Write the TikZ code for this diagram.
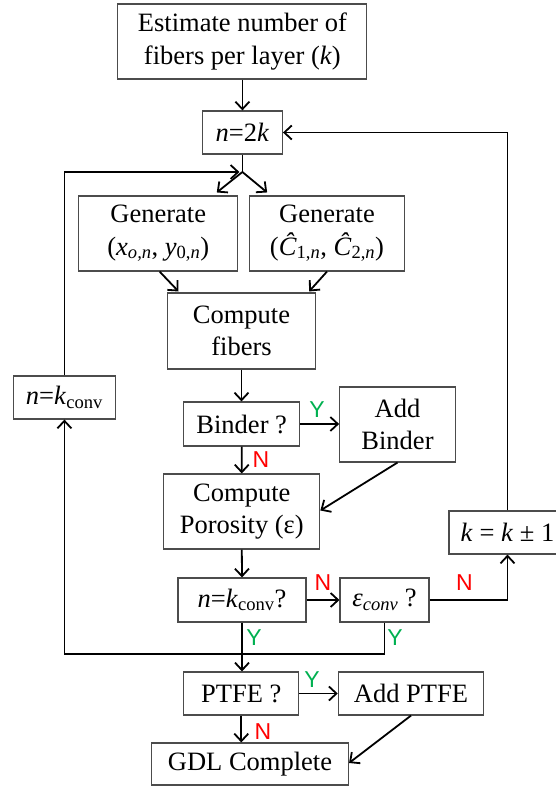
\documentclass[tikz,border=0pt]{standalone}
\usepackage{fontspec}
\setmainfont{Liberation Serif}
\newfontfamily\lsans{Liberation Sans}
\usetikzlibrary{arrows.meta,calc}
\definecolor{ygreen}{RGB}{0,176,80}
\definecolor{nred}{RGB}{255,0,0}
\begin{document}
\begin{tikzpicture}[x=1pt,y=-1pt,
  box/.style={draw=black!70,line width=1.1pt,inner sep=0pt,align=center,font=\fontsize{26.5}{32.5}\selectfont},
  conn/.style={line width=1.8pt,-{Straight Barb[length=7.5pt,width=14pt]}},
  plain/.style={line width=1.8pt},
  ylab/.style={text=ygreen,font=\lsans\fontsize{23}{23}\selectfont,inner sep=0pt},
  nlab/.style={text=nred,font=\lsans\fontsize{23}{23}\selectfont,inner sep=0pt}]
\useasboundingbox (0,0) rectangle (556,786);
% nodes
\node[box,minimum width=249pt,minimum height=75pt] (est) at (242.4,41.5) {Estimate number of\\fibers per layer (\textit{k})};
\node[box,minimum width=80pt,minimum height=43pt] (n2k) at (242.4,132.5) {\textit{n}=2\textit{k}};
\node[box,minimum width=159pt,minimum height=75pt] (gen1) at (158.3,233.5) {Generate\\(\textit{x}\textsubscript{\textit{o,n}}, \textit{y}\textsubscript{0,\textit{n}})};
\node[box,minimum width=155pt,minimum height=75pt] (gen2) at (327,233.5) {Generate\\(\textit{Ĉ}\textsubscript{1,\textit{n}}, \textit{Ĉ}\textsubscript{2,\textit{n}})};
\node[box,minimum width=147.5pt,minimum height=76pt] (cf) at (241.5,331) {Compute\\fibers};
\node[box,minimum width=116pt,minimum height=44pt] (binder) at (241.7,424) {Binder ?};
\node[box,minimum width=115.6pt,minimum height=75pt] (addb) at (397.5,424.5) {Add\\Binder};
\node[box,minimum width=156pt,minimum height=75pt] (cp) at (241.8,511.5) {Compute\\Porosity (ε)};
\node[box,minimum width=102.5pt,minimum height=43pt] (nkl) at (64.4,397.5) {\textit{n}=\textit{k}\textsubscript{conv}};
\node[box,minimum width=117pt,minimum height=43pt] (kk) at (507.5,532.5) {\textit{k} = \textit{k} ± 1};
\node[box,minimum width=128pt,minimum height=44pt] (nkq) at (242,600) {\textit{n}=\textit{k}\textsubscript{conv}?};
\node[box,minimum width=89pt,minimum height=44pt] (econv) at (384.5,600) {\textit{ε}\textsubscript{\textit{conv}} ?};
\node[box,minimum width=115pt,minimum height=43pt] (ptfe) at (241.3,693.5) {PTFE ?};
\node[box,minimum width=145.4pt,minimum height=43pt] (addp) at (411,693.5) {Add PTFE};
\node[box,minimum width=197pt,minimum height=42pt] (gdl) at (250,764) {GDL Complete};
% helper coordinates
\coordinate (J) at (242.4,172);
\coordinate (B) at (64.4,654);
% connectors
\draw[conn] (est.south) -- (n2k.north);
\draw[plain] (n2k.south) -- (J);
\draw[conn,shorten >=3pt] (nkl.north) |- (J);
\draw[conn] (J) -- ($(gen1.north east)+(-21.6,-3)$);
\draw[conn] (J) -- ($(gen2.north west)+(18.2,-3)$);
\draw[conn] ($(gen1.south)+(1.3,0)$) -- ($(cf.north west)+(11.3,-1)$);
\draw[conn] (gen2.south) -- ($(cf.north east)+(-6.7,-1)$);
\draw[conn] (cf.south) -- (cf.south |- binder.north);
\draw[conn] (binder.east) -- (binder.east -| addb.west);
\draw[conn] (binder.south) -- (cp.north);
\draw[conn] (addb.south) -- ($(cp.east)+(0,-1)$);
\draw[conn] (cp.south) -- (nkq.north);
\draw[conn] (nkq.east) -- (econv.west);
\draw[conn] (econv.east) -| (kk.south);
\draw[conn] (kk.north) |- (n2k.east);
\draw[conn] (nkq.south) -- (nkq.south |- ptfe.north);
\draw[conn] (econv.south) |- (B) -- (nkl.south);
\draw[conn] (ptfe.east) -- (addp.west);
\draw[conn] (ptfe.south) -- (ptfe.south |- gdl.north);
\draw[conn] (addp.south) -- ($(gdl.east)+(0,-1)$);
% labels
\node[ylab] (y1) at (317,410) {Y};
\node[nlab] (n1) at (261,460) {N};
\node[nlab] (n2) at (323,583) {N};
\node[nlab] (n3) at (464.5,583) {N};
\node[ylab] (y2) at (254,638) {Y};
\node[ylab] (y3) at (395,638) {Y};
\node[ylab] (y4) at (312,680) {Y};
\node[nlab] (n4) at (263,732) {N};
\end{tikzpicture}
\end{document}
